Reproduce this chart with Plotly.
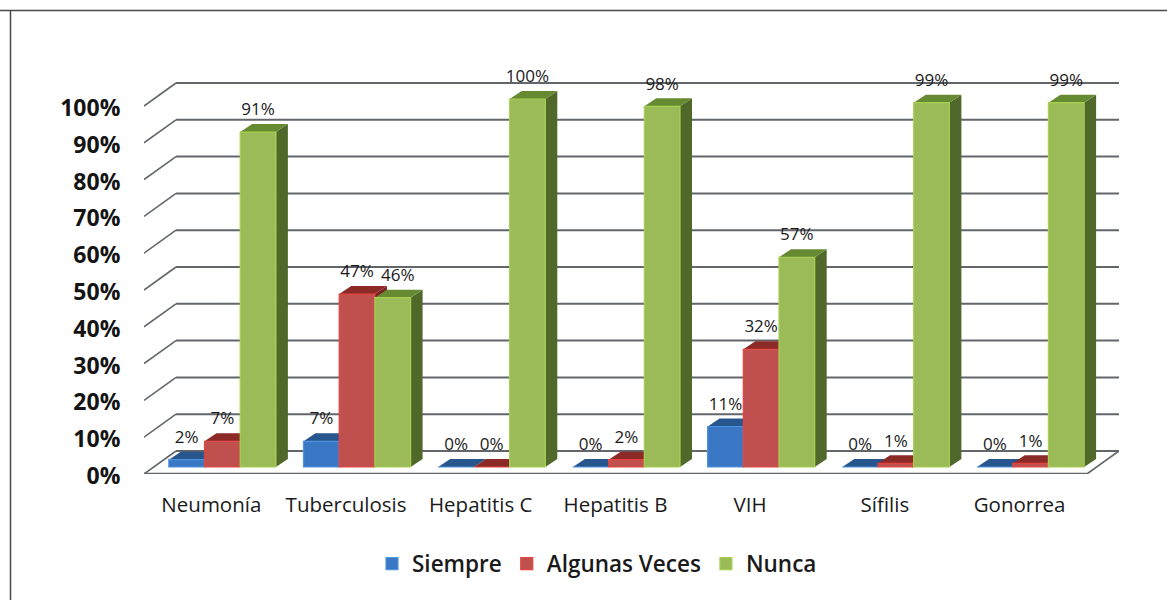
import plotly.graph_objects as go

categories = ["Neumonía", "Tuberculosis", "Hepatitis C", "Hepatitis B", "VIH", "Sífilis", "Gonorrea"]
siempre = [2, 7, 0, 0, 11, 0, 0]
algunas = [7, 47, 0, 2, 32, 1, 1]
nunca = [91, 46, 100, 98, 57, 99, 99]
y_ticks = list(range(0, 101, 10))
y_tick_text = [f"{t}%" for t in y_ticks]

W, H = 1167, 600
PX_L, PX_R, PX_FLOOR, PX_TOP = 144, 1119, 474, 40
PX_PER_PCT = 3.68
PX_PER_CAT = 134.7


def dx(px):
    return px / PX_PER_CAT


def dy(px):
    return px / PX_PER_PCT


WALL_DX, WALL_DY = dx(32), dy(23)
BAR_DX, BAR_DY = dx(12), dy(8)
BAR_BASE = dy(7)
BAR_W = dx(35.7)
GROUP_SHIFT = dx(11)
LABEL_RISE = dy(21)
N = len(categories)
X_MAX = (PX_R - PX_L) / PX_PER_CAT

series = [
    ("Siempre", siempre, -1, "#3a78c6", "#4f94e0", "#27568f", "#1f4a80"),
    ("Algunas Veces", algunas, 0, "#c0504d", "#e2453f", "#8c2a28", "#7a2321"),
    ("Nunca", nunca, 1, "#9bbb59", "#a8d050", "#668a32", "#50692a"),
]

GRID = "#62666b"
shapes = []


def line(x0, y0, x1, y1, width=2.0, color=GRID):
    shapes.append(dict(type="line", xref="x", yref="y", x0=x0, y0=y0, x1=x1, y1=y1,
                       layer="below", line=dict(color=color, width=width)))


def poly(points, color):
    path = "M" + " L".join(f"{a},{b}" for a, b in points) + " Z"
    shapes.append(dict(type="path", xref="x", yref="y", path=path, layer="below",
                       fillcolor=color, line=dict(width=0)))


for t in y_ticks:
    line(WALL_DX, t + WALL_DY, X_MAX, t + WALL_DY)
    line(0, t, WALL_DX, t + WALL_DY, width=1.6)
line(0, 0, N, 0, width=2.4)
line(N, 0, X_MAX, WALL_DY, width=1.6)

for i in range(N):
    centre = i + 0.5 + GROUP_SHIFT
    for name, vals, pos, front, edge, top, side in series:
        xl = centre + pos * BAR_W - BAR_W / 2
        xr = xl + BAR_W
        t = BAR_BASE + vals[i]
        poly([(xr, BAR_BASE), (xr + BAR_DX, BAR_BASE + BAR_DY), (xr + BAR_DX, t + BAR_DY), (xr, t)], side)
        poly([(xl, t), (xl + BAR_DX, t + BAR_DY), (xr + BAR_DX, t + BAR_DY), (xr, t)], top)

# outer picture frame
shapes.append(dict(type="line", xref="paper", yref="paper", x0=0, x1=1, y0=1 - 10.5 / H, y1=1 - 10.5 / H,
                   line=dict(color="#4a4a4a", width=1.5)))
shapes.append(dict(type="line", xref="paper", yref="paper", x0=10.5 / W, x1=10.5 / W, y0=0, y1=1 - 10.5 / H,
                   line=dict(color="#4a4a4a", width=1.5)))

fig = go.Figure()
for name, vals, pos, front, edge, top, side in series:
    xs = [i + 0.5 + GROUP_SHIFT + pos * BAR_W for i in range(N)]
    fig.add_trace(go.Bar(
        x=xs, y=vals, base=[BAR_BASE] * N, width=BAR_W, name=name,
        marker=dict(color=front, line=dict(color=edge, width=1.2)),
    ))
for name, vals, pos, front, edge, top, side in series:
    xs = [i + 0.5 + GROUP_SHIFT + pos * BAR_W for i in range(N)]
    if name == "Nunca":
        xs[1] += dx(5)  # the 46% label sits clear of its 47% neighbour
    fig.add_trace(go.Scatter(
        x=xs, y=[BAR_BASE + v + LABEL_RISE for v in vals], mode="text",
        text=[f"{v}%" for v in vals], textposition="middle center",
        textfont=dict(family="Open Sans", size=17, color="#1a1a1a"),
        showlegend=False, hoverinfo="skip",
    ))

fig.update_layout(
    width=W, height=H, margin=dict(l=0, r=0, t=0, b=0, autoexpand=False),
    paper_bgcolor="white", plot_bgcolor="white", barmode="overlay",
    shapes=shapes, showlegend=True,
    legend=dict(orientation="h", xref="container", yref="container",
                x=372 / W, xanchor="left", y=1 - 564 / H, yanchor="middle",
                font=dict(family="Open Sans", size=22.5, color="#1a1a1a", weight=600),
                traceorder="normal", itemwidth=30, bgcolor="rgba(0,0,0,0)"),
    xaxis=dict(domain=[PX_L / W, PX_R / W], range=[0, X_MAX],
               tickvals=[i + 0.5 for i in range(N)], ticktext=categories,
               showgrid=False, zeroline=False, showline=False,
               ticks="outside", ticklen=12, tickcolor="rgba(0,0,0,0)",
               tickfont=dict(family="Open Sans", size=20.5, color="#1a1a1a"), tickangle=0),
    yaxis=dict(domain=[1 - PX_FLOOR / H, 1 - PX_TOP / H], range=[0, (PX_FLOOR - PX_TOP) / PX_PER_PCT],
               tickvals=y_ticks, ticktext=y_tick_text, ticklabelshift=2,
               showgrid=False, zeroline=False, showline=False,
               ticks="outside", ticklen=18, tickcolor="rgba(0,0,0,0)",
               tickfont=dict(family="Open Sans", size=23, color="#141414", weight=700)),
)

fig.write_html("out.html", post_script="document.body.style.margin='0';",
               config=dict(displayModeBar=False, responsive=False))
